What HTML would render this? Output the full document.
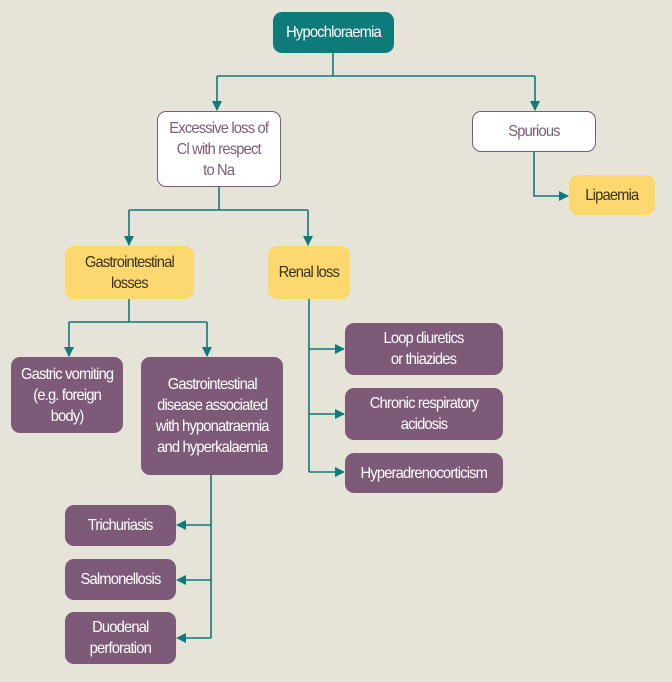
<!DOCTYPE html>
<html><head><style>
body{margin:0;width:672px;height:682px;background:#e6e4d9;position:relative;overflow:hidden;font-family:"Liberation Sans",sans-serif;}
.b{position:absolute;box-sizing:border-box;display:flex;align-items:center;justify-content:center;text-align:center;border-radius:9px;font-size:16px;line-height:21px;letter-spacing:-0.9px;}
.b span{display:inline-block;transform:scaleX(0.92);white-space:nowrap;}
.t{background:#0f7a7a;color:#fff;}
.w{background:#fff;border:1.5px solid #7d5a78;color:#7d5a78;}
.y{background:#fdd86e;color:#3a3320;}
.p{background:#7d5a78;color:#fff;}
svg{position:absolute;left:0;top:0;}
</style></head><body>
<svg width="672" height="682">
<defs><marker id="a" markerWidth="10" markerHeight="10" refX="9" refY="5" orient="auto" markerUnits="userSpaceOnUse"><path d="M0,0 L10,5 L0,10z" fill="#0f7a7a"/></marker></defs>
<g stroke="#0f7a7a" stroke-width="1.6" fill="none">
<path d="M333,53 V76"/><path d="M217,76 H535"/>
<path d="M217,76 V110" marker-end="url(#a)"/><path d="M535,76 V110" marker-end="url(#a)"/>
<path d="M534,152 V196 H568" marker-end="url(#a)"/>
<path d="M219,187 V210"/><path d="M129,210 H308"/>
<path d="M129,210 V245" marker-end="url(#a)"/><path d="M308,210 V245" marker-end="url(#a)"/>
<path d="M129,299 V322"/><path d="M69,322 H207"/>
<path d="M69,322 V356" marker-end="url(#a)"/><path d="M207,322 V356" marker-end="url(#a)"/>
<path d="M309,299 V472"/>
<path d="M309,349 H344" marker-end="url(#a)"/><path d="M309,414 H344" marker-end="url(#a)"/><path d="M309,472 H344" marker-end="url(#a)"/>
<path d="M211,475 V638"/>
<path d="M211,525 H177" marker-end="url(#a)"/><path d="M211,580 H177" marker-end="url(#a)"/><path d="M211,638 H177" marker-end="url(#a)"/>
</g></svg>
<div class="b t" style="left:273px;top:12px;width:121px;height:41px;"><span>Hypochloraemia</span></div>
<div class="b w" style="left:157px;top:111px;width:124px;height:76px;"><span>Excessive loss of<br>Cl with respect<br>to Na</span></div>
<div class="b w" style="left:472px;top:111px;width:124px;height:41px;"><span>Spurious</span></div>
<div class="b y" style="left:569px;top:175px;width:86px;height:40px;"><span>Lipaemia</span></div>
<div class="b y" style="left:65px;top:246px;width:129px;height:53px;"><span>Gastrointestinal<br>losses</span></div>
<div class="b y" style="left:268px;top:246px;width:82px;height:53px;"><span>Renal loss</span></div>
<div class="b p" style="left:11px;top:357px;width:112px;height:76px;"><span>Gastric vomiting<br>(e.g. foreign<br>body)</span></div>
<div class="b p" style="left:141px;top:357px;width:142px;height:118px;"><span>Gastrointestinal<br>disease associated<br>with hyponatraemia<br>and hyperkalaemia</span></div>
<div class="b p" style="left:345px;top:323px;width:158px;height:52px;"><span>Loop diuretics<br>or thiazides</span></div>
<div class="b p" style="left:345px;top:388px;width:158px;height:52px;"><span>Chronic respiratory<br>acidosis</span></div>
<div class="b p" style="left:345px;top:453px;width:158px;height:40px;"><span>Hyperadrenocorticism</span></div>
<div class="b p" style="left:65px;top:505px;width:111px;height:41px;"><span>Trichuriasis</span></div>
<div class="b p" style="left:65px;top:559px;width:111px;height:41px;"><span>Salmonellosis</span></div>
<div class="b p" style="left:65px;top:612px;width:111px;height:52px;"><span>Duodenal<br>perforation</span></div>
</body></html>
